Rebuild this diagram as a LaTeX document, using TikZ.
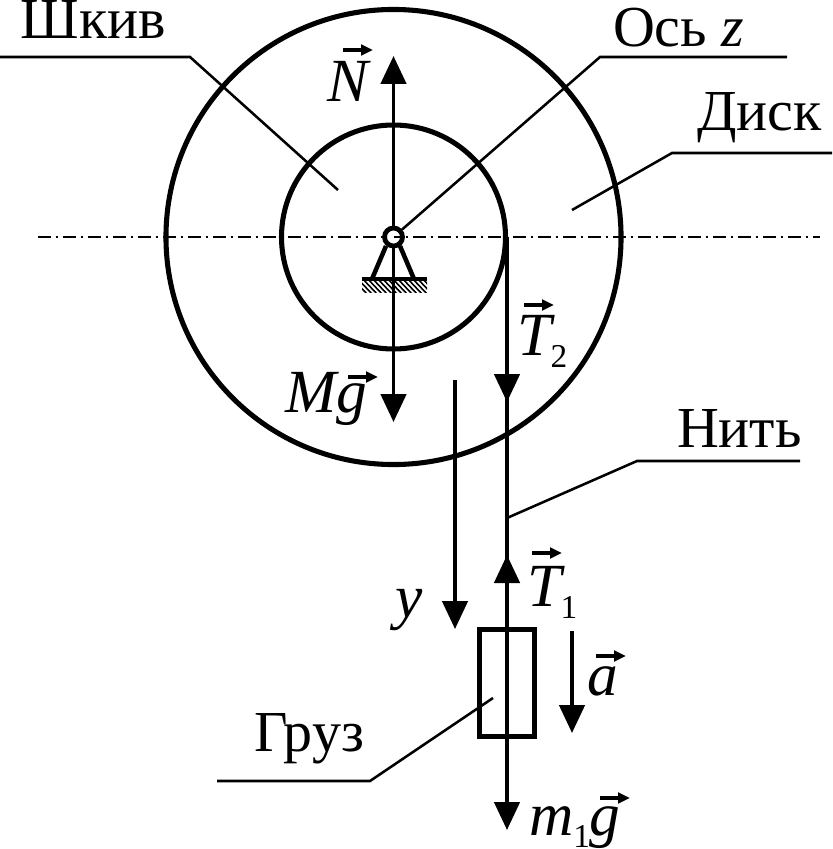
\documentclass[tikz,border=0pt]{standalone}
\usepackage{fontspec}
\setmainfont{Liberation Serif}
\usetikzlibrary{arrows.meta}
\newcommand{\bigfs}{\fontsize{43.5}{43.5}\selectfont}
\newcommand{\itfs}{\fontsize{46}{46}\selectfont}
\newcommand{\subfs}{\fontsize{25}{25}\selectfont}
\newcommand{\subtxt}[1]{\raisebox{-9pt}{\subfs #1}}
\tikzset{
  wheel/.style={line width=3.8pt},
  leader/.style={line width=1.9pt},
  force/.style={line width=2.7pt,-{Triangle[length=21pt,width=19pt]}},
  vecmark/.style={line width=2.7pt,-{Triangle[length=9pt,width=8pt]}},
  lbl/.style={anchor=base west,inner sep=0pt,outer sep=0pt,font=\bigfs},
  ilbl/.style={lbl,font=\itfs},
}
\begin{document}
\begin{tikzpicture}[x=0.75pt,y=-0.75pt]
\useasboundingbox (0,0) rectangle (832,849);
\coordinate (C) at (393.5,237);
% axis
\coordinate (axL) at (38,237); \coordinate (axR) at (820,237);
\draw[line width=2pt,dash pattern=on 9.75pt off 3.4pt on 2.2pt off 3.4pt] (axL) -- (axR);
% wheels
\node[wheel,draw,circle,minimum size=341.3pt,inner sep=0pt] (disk) at (C) {};
\node[wheel,draw,circle,minimum size=168pt,inner sep=0pt] (pulley) at (C) {};
% hinge support
\coordinate (bL) at (362,279); \coordinate (bR) at (427,279);
\begin{scope}
\clip (362,279) rectangle (427,292);
\foreach \i in {0,5,...,90} \draw[line width=1.2pt] (350+\i,276) -- (368+\i,295);
\end{scope}
\draw[line width=2.7pt] (bL) -- (bR);
\coordinate (h1) at (386,246); \coordinate (h2) at (400,246);
\coordinate (f1) at (372,279); \coordinate (f2) at (414,279);
\draw[line width=3.4pt] (h1) -- (f1) (h2) -- (f2);
% vertical forces
\coordinate (Ntip) at (393.5,56); \coordinate (Mtip) at (393.5,422);
\draw[force] (C) -- (Ntip);
\draw[force] (C) -- (Mtip);
\node[draw,circle,line width=3.6pt,minimum size=13.5pt,inner sep=0pt,fill=white] (hinge) at (C) {};
\draw[line width=1.9pt] (hinge.center) -- (hinge.east);
% thread
\coordinate (Th0) at (507,237); \coordinate (T2tip) at (507,402);
\coordinate (Th1) at (507,830); \coordinate (T1tip) at (507,555);
\draw[force] (Th0) -- (T2tip);
\draw[force] (Th0) -- (Th1);
\draw[force] (507,627) -- (T1tip);
% load
\node[draw,line width=3.8pt,minimum width=41pt,minimum height=80pt,inner sep=0pt] (load) at (507,683) {};
% y and a
\coordinate (y0) at (455,380); \coordinate (y1) at (455,629);
\draw[force] (y0) -- (y1);
\coordinate (a0) at (572,631); \coordinate (a1) at (572,733);
\draw[force] (a0) -- (a1);
% leaders
\draw[leader] (0,57) -- (190,57) -- (338,190);
\draw[leader] (787,57) -- (600,57) -- (hinge);
\draw[leader] (832,153) -- (672,153) -- (572,210);
\draw[leader] (800,461) -- (637,461) -- (507,518);
\draw[leader] (217,781) -- (370,781) -- (493,698);
% labels
\node[lbl] (t1) at (21,39) {Шкив};
\node[lbl] (t2) at (613,47) {Ось \textit{z}};
\node[lbl] (t3) at (697,130) {Диск};
\node[lbl] (t4) at (677,447) {Нить};
\node[lbl] (t5) at (254,751) {Груз};
\node[ilbl] (N) at (327,102) {\textit{N}};
\node[ilbl] (Mg) at (285,412) {\textit{Mg}};
\node[ilbl] (T2) at (517,355) {\textit{T}\hspace{-3pt}\subtxt{2}};
\node[ilbl] (T1) at (527,606) {\textit{T}\hspace{-3pt}\subtxt{1}};
\node[ilbl] (y) at (395,617) {\textit{y}};
\node[ilbl] (a) at (587,695) {\textit{a}};
\node[ilbl] (mg) at (529,835) {\textit{m}\subtxt{1}\textit{g}};
% vector marks
\draw[vecmark] (343,50) -- (373,50);
\draw[vecmark] (348,377) -- (378,377);
\draw[vecmark] (524,305) -- (554,305);
\draw[vecmark] (532,553) -- (562,553);
\draw[vecmark] (596,656) -- (626,656);
\draw[vecmark] (600,798) -- (630,798);
\end{tikzpicture}
\end{document}
